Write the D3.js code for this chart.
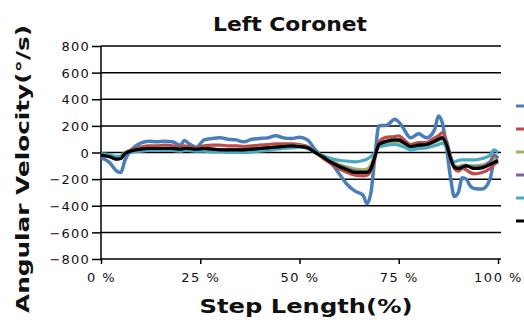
<!DOCTYPE html>
<html>
<head>
<meta charset="utf-8">
<script src="https://cdn.jsdelivr.net/npm/d3@7"></script>
<style>
  html, body { margin: 0; padding: 0; background: #fff; }
  svg { display: block; }
  text { font-family: "DejaVu Sans", Verdana, sans-serif; fill: #111; }
</style>
</head>
<body>
<svg id="chart" width="524" height="320"></svg>
<script>
const title = "Left Coronet";
const xTitle = "Step Length(%)";
const yTitle = "Angular Velocity(°/s)";
const xTicks = [0, 25, 50, 75, 100];
const yTicks = [-800, -600, -400, -200, 0, 200, 400, 600, 800];
const seriesNames = ["Trial 1", "Trial 2", "Trial 3", "Trial 4", "Trial 5", "Mean"];
const seriesColors = ["#4a7ebb", "#be4b48", "#98b954", "#7d60a0", "#46aac5", "#000000"];

const stepPct = [0,2,4,5,6,8,10,12,14,16,18,20,21,22,24,26,28,30,32,34,36,38,40,42,44,46,48,50,52,54,56,58,60,62,64,66,67,68,69,70,72,74,75,76,78,80,82,84,85,86,87,88,89,90,91,92,93,94,96,98,99,100];

const s1 = [-40,-70,-140,-150,-60,30,70,85,80,85,80,55,90,70,40,95,105,110,100,95,80,100,105,110,125,110,105,115,95,20,-40,-80,-160,-240,-290,-320,-385,-300,-30,200,205,250,230,190,110,140,110,170,275,220,40,-180,-330,-300,-190,-200,-250,-270,-275,-200,-60,-30];
const s2 = [-20,-25,-45,-40,-5,25,40,50,50,55,50,40,50,45,35,50,55,55,50,50,45,50,55,60,65,65,65,60,45,0,-45,-85,-120,-150,-170,-175,-170,-140,-40,80,115,120,125,105,60,75,75,110,125,150,90,-20,-120,-140,-120,-130,-150,-160,-150,-120,-90,-70];
const s3 = [-15,-20,-35,-30,0,15,25,30,30,32,30,25,30,30,25,28,25,20,20,20,20,25,30,35,40,45,50,48,38,0,-30,-60,-90,-110,-125,-130,-125,-90,-20,55,75,80,80,70,40,50,55,75,90,100,50,-40,-100,-105,-95,-95,-100,-100,-95,-70,-50,-40];
const s4 = [-20,-28,-48,-42,-8,15,28,32,30,30,30,25,30,30,25,30,25,20,20,20,20,25,30,35,40,45,50,45,35,0,-35,-70,-100,-120,-140,-145,-145,-115,-30,60,85,90,90,78,45,55,60,85,100,115,80,-35,-105,-115,-105,-100,-105,-110,-105,-70,-20,-40];
const s5 = [-10,-15,-30,-25,-10,5,10,15,15,15,15,10,15,15,10,10,5,5,0,0,0,5,10,15,25,30,35,40,30,0,-25,-45,-58,-65,-70,-60,-50,-30,0,40,55,60,55,45,20,30,35,50,60,70,40,-30,-70,-60,-55,-55,-55,-55,-45,-20,20,0];
const s6 = [-20,-30,-50,-45,-10,15,25,30,30,30,30,25,30,30,25,30,25,20,20,20,20,25,30,35,40,45,50,45,35,0,-35,-75,-105,-130,-150,-150,-150,-120,-30,60,85,95,95,80,45,55,60,85,100,110,60,-40,-110,-120,-110,-100,-110,-120,-115,-90,-75,-60];
const seriesValues = [s1, s2, s3, s4, s5, s6];

const svg = d3.select("#chart");
const x = d3.scaleLinear().domain([0, 100]).range([101, 498]);
const y = d3.scaleLinear().domain([-800, 800]).range([259, 46]);
const gridRight = 501;

// gridlines
svg.append("g").selectAll("line").data(yTicks.filter(d => d !== -800)).join("line")
  .attr("x1", x(0)).attr("x2", gridRight)
  .attr("y1", d => y(d)).attr("y2", d => y(d))
  .attr("stroke", "#000").attr("stroke-width", 1.5);

// y axis
const yAxis = svg.append("g").attr("transform", `translate(${x(0)},0)`)
  .call(d3.axisLeft(y).tickValues(yTicks).tickSize(9).tickPadding(2).tickFormat(d3.format("d")));
yAxis.select(".domain").attr("stroke-width", 1.5).attr("d", `M0,${y(-800)}V${y(800)}`);
yAxis.selectAll(".tick line").attr("stroke-width", 1.5);
yAxis.selectAll("text").style("font-size", "13px").style("letter-spacing", "1.2px")
  .attr("fill", "#111").attr("dy", "0.36em");

// x axis
const xAxis = svg.append("g").attr("transform", `translate(0,${y(-800)})`)
  .call(d3.axisBottom(x).tickValues(xTicks).tickSize(5).tickPadding(9).tickFormat(d => d + " %"));
xAxis.select(".domain").attr("stroke-width", 1.5).attr("d", `M${x(0)},0H${gridRight}`);
xAxis.selectAll(".tick line").attr("stroke-width", 1.5);
xAxis.selectAll("text").style("font-size", "13px").style("letter-spacing", "1.5px").attr("fill", "#111");

// series
const line = d3.line().x((d, i) => x(stepPct[i])).y(d => y(d)).curve(d3.curveMonotoneX);
svg.append("g").selectAll("path").data(seriesValues).join("path")
  .attr("d", d => line(d))
  .attr("fill", "none")
  .attr("stroke", (d, i) => seriesColors[i])
  .attr("stroke-width", (d, i) => i === 0 ? 3.5 : 3.2)
  .attr("stroke-linejoin", "round");

// legend (labels fall outside the visible area, only the line keys show)
const lg = svg.append("g").selectAll("g").data(seriesNames).join("g")
  .attr("transform", (d, i) => `translate(516,${106 + i * 23})`);
lg.append("line").attr("x1", 0).attr("x2", 14).attr("y1", 0).attr("y2", 0)
  .attr("stroke", (d, i) => seriesColors[i]).attr("stroke-width", 3);

// titles
svg.append("text").attr("x", 290).attr("y", 31).attr("text-anchor", "middle")
  .style("font-size", "19px").style("font-weight", "bold")
  .attr("textLength", 154).attr("lengthAdjust", "spacingAndGlyphs").text(title);
svg.append("text").attr("x", 306).attr("y", 313).attr("text-anchor", "middle")
  .style("font-size", "19px").style("font-weight", "bold")
  .attr("textLength", 213).attr("lengthAdjust", "spacingAndGlyphs").text(xTitle);
svg.append("text").attr("transform", "translate(29,169) rotate(-90)").attr("text-anchor", "middle")
  .style("font-size", "18px").style("font-weight", "bold")
  .attr("textLength", 288).attr("lengthAdjust", "spacingAndGlyphs").text(yTitle);
</script>
</body>
</html>
